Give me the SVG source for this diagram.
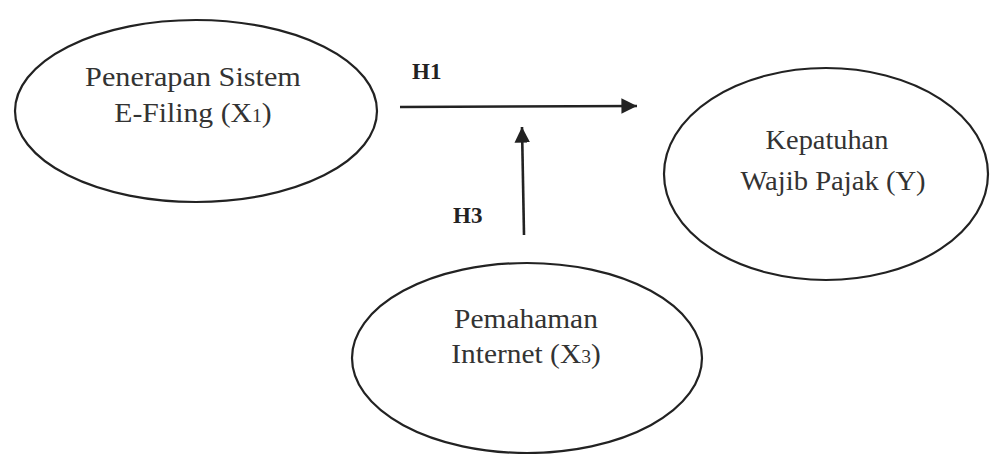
<svg xmlns="http://www.w3.org/2000/svg" width="990" height="454" viewBox="0 0 990 454">
<defs>
<style>
.node ellipse{fill:none;stroke:#222;stroke-width:2.2}
.lbl{font-family:"Liberation Serif","Times New Roman",serif;font-size:27px;fill:#333;text-anchor:middle}
.h{font-family:"Liberation Serif","Times New Roman",serif;font-size:23px;font-weight:bold;fill:#222}
.sub{font-size:18px}
.conn line{stroke:#222;stroke-width:2.6;fill:none}
</style>
<marker id="ah" viewBox="0 0 10 10" refX="10" refY="5" markerWidth="6" markerHeight="6" markerUnits="strokeWidth" orient="auto">
<path d="M0,0 L10,5 L0,10 z" fill="#222"/>
</marker>
</defs>
<rect width="990" height="454" fill="#fff"/>
<g id="node-x1" class="node">
<ellipse cx="196" cy="111" rx="181" ry="91"/>
<text class="lbl" transform="translate(193,86) scale(1.12,1)">Penerapan Sistem</text>
<text class="lbl" transform="translate(193,122) scale(1.1,1)">E-Filing (X<tspan class="sub">1</tspan>)</text>
</g>
<g id="node-y" class="node">
<ellipse cx="826" cy="174" rx="162" ry="106"/>
<text class="lbl" transform="translate(827,149) scale(1.05,1)">Kepatuhan</text>
<text class="lbl" transform="translate(833,190) scale(1.06,1)">Wajib Pajak (Y)</text>
</g>
<g id="node-x3" class="node">
<ellipse cx="527" cy="358" rx="175" ry="95"/>
<text class="lbl" transform="translate(526,328) scale(1.09,1)">Pemahaman</text>
<text class="lbl" transform="translate(526,363) scale(1.09,1)">Internet (X<tspan class="sub">3</tspan>)</text>
</g>
<g id="connectors" class="conn">
<line x1="400" y1="107" x2="637" y2="106" marker-end="url(#ah)"/>
<line x1="524" y1="235" x2="522" y2="127" marker-end="url(#ah)"/>
<text class="h" x="412" y="79">H1</text>
<text class="h" x="453" y="223">H3</text>
</g>
</svg>
